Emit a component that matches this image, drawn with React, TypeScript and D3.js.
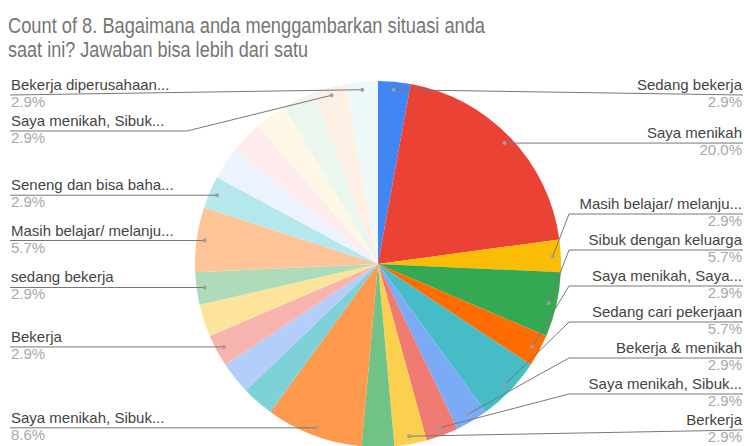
import React from 'react';
import * as d3 from 'd3';

const titleLines = ['Count of 8. Bagaimana anda menggambarkan situasi anda', 'saat ini? Jawaban bisa lebih dari satu'];

// slice names (empty = label hidden in the chart) and response counts, clockwise from 12 o'clock
const categories = [
  'Sedang bekerja',
  'Saya menikah',
  'Masih belajar/ melanju...',
  'Sibuk dengan keluarga',
  'Saya menikah, Saya...',
  'Sedang cari pekerjaan',
  'Bekerja & menikah',
  'Saya menikah, Sibuk...',
  'Berkerja',
  '',
  'Saya menikah, Sibuk...',
  '',
  '',
  'Bekerja',
  '',
  'sedang bekerja',
  'Masih belajar/ melanju...',
  'Seneng dan bisa baha...',
  '',
  '',
  '',
  '',
  'Saya menikah, Sibuk...',
  'Bekerja diperusahaan...',
];
const counts = [1, 7, 1, 2, 1, 2, 1, 1, 1, 1, 3, 1, 1, 1, 1, 1, 2, 1, 1, 1, 1, 1, 1, 1];

const palette = [
  '#4285f4', '#ea4335', '#fbbc04', '#34a853', '#ff6d01', '#46bdc6',
  '#7baaf7', '#f07b72', '#fcd04f', '#71c287', '#ff994d', '#7ed1d7',
  '#b3cefb', '#f7b4ae', '#fde49b', '#aedcba', '#ffc599', '#b5e8ec',
  '#ecf3fe', '#fdeceb', '#fff8e6', '#ebf6ee', '#fff0e6', '#edf8f9',
];

const W = 747;
const H = 446;
const cx = 378;
const cy = 264;
const radius = 183;
const anchorR = radius - 8;
const gap = 36;
const minY = 95;
const maxY = 430;

interface Lbl {
  name: string;
  pct: string;
  ax: number;
  ay: number;
  y: number;
  right: boolean;
}

export default function App() {
  const total = d3.sum(counts);
  const pie = d3.pie<number>().sort(null).value((d) => d);
  const arcs = pie(counts);
  const arc = d3.arc<d3.PieArcDatum<number>>().innerRadius(0).outerRadius(radius);

  const labels: Lbl[] = [];
  arcs.forEach((a, i) => {
    if (!categories[i]) return;
    const mid = (a.startAngle + a.endAngle) / 2;
    labels.push({
      name: categories[i],
      pct: ((counts[i] / total) * 100).toFixed(1) + '%',
      ax: cx + Math.sin(mid) * anchorR,
      ay: cy - Math.cos(mid) * anchorR,
      y: 0,
      right: mid < Math.PI,
    });
  });

  // push labels apart: first downwards from the top, then upwards from the bottom
  const layout = (side: Lbl[]) => {
    side.sort((p, q) => p.ay - q.ay);
    side.forEach((l, i) => {
      l.y = Math.max(l.ay, i === 0 ? minY : side[i - 1].y + gap);
    });
    for (let i = side.length - 1; i >= 0; i--) {
      const l = side[i];
      l.y = Math.min(l.y, i === side.length - 1 ? maxY : side[i + 1].y - gap);
    }
  };
  layout(labels.filter((l) => l.right));
  layout(labels.filter((l) => !l.right));

  const linePath = (l: Lbl) => {
    const endX = l.right ? W - 4 : 10;
    if (Math.abs(l.ay - l.y) <= 8) return `M${l.ax},${l.ay}L${endX},${l.y}`;
    const elbowX = l.right ? cx + radius + 8 : cx - radius - 8;
    return `M${l.ax},${l.ay}L${elbowX},${l.y}L${endX},${l.y}`;
  };

  return (
    <svg
      width={W}
      height={H}
      style={{ position: 'absolute', left: 0, top: 0, background: '#fff' }}
      fontFamily="'Liberation Sans', Arial, sans-serif"
    >
      {titleLines.map((t, i) => (
        <text
          key={i}
          x={8}
          y={33 + i * 24}
          fontSize={22}
          fill="#757575"
          textLength={i === 0 ? 477 : 300}
          lengthAdjust="spacingAndGlyphs"
        >
          {t}
        </text>
      ))}
      <g transform={`translate(${cx},${cy})`}>
        {arcs.map((a, i) => (
          <path key={i} d={arc(a) || ''} fill={palette[i % palette.length]} />
        ))}
      </g>
      {labels.map((l, i) => (
        <g key={i}>
          <path d={linePath(l)} fill="none" stroke="#777" strokeWidth={1} />
          <circle cx={l.ax} cy={l.ay} r={2} fill="#9e9e9e" />
          <text
            x={l.right ? W - 5 : 11}
            y={l.y - 5}
            fontSize={15}
            fill="#444"
            textAnchor={l.right ? 'end' : 'start'}
          >
            {l.name}
          </text>
          <text
            x={l.right ? W - 5 : 11}
            y={l.y + 12}
            fontSize={15}
            fill="#a8a8a8"
            textAnchor={l.right ? 'end' : 'start'}
          >
            {l.pct}
          </text>
        </g>
      ))}
    </svg>
  );
}
